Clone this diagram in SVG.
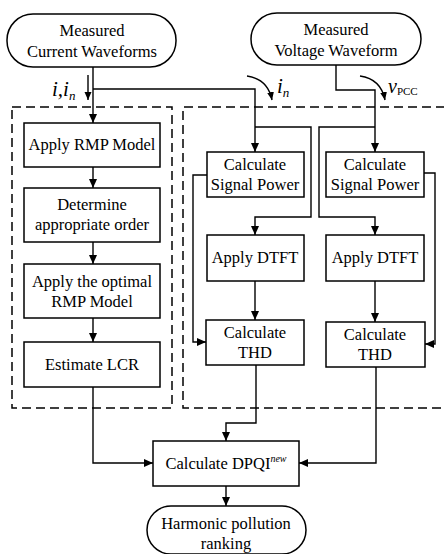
<svg xmlns="http://www.w3.org/2000/svg" width="444" height="554" viewBox="0 0 444 554" font-family="Liberation Serif, serif">
<defs>
<style>
.box{fill:#fff;stroke:#000;stroke-width:1.5}
.dash{fill:none;stroke:#000;stroke-width:1.5;stroke-dasharray:9,5}
.ln{fill:none;stroke:#000;stroke-width:1.4}
text{font-family:'Liberation Serif',serif}
.t{font-size:16.5px;fill:#000;text-anchor:middle}
.lbl{font-style:italic;fill:#000}
</style>
<marker id="ah" markerUnits="userSpaceOnUse" markerWidth="10" markerHeight="10" refX="9" refY="4" orient="auto">
<path d="M0,0 L9,4 L0,8 z" fill="#000"/>
</marker>
<marker id="sa" markerUnits="userSpaceOnUse" markerWidth="10" markerHeight="10" refX="8" refY="3.5" orient="auto">
<path d="M0,0 L8,3.5 L0,7 z" fill="#000"/>
</marker>
</defs>
<rect width="444" height="554" fill="#fff"/>

<g id="groups">
<rect class="dash" x="12" y="107" width="160" height="301"/>
<path class="dash" d="M445,107 H183 V408 H445"/>
</g>

<g id="connectors">
<path class="ln" d="M93,67 V123" marker-end="url(#ah)"/>
<path class="ln" d="M93,89 H255 V152" marker-end="url(#ah)"/>
<path class="ln" d="M255,127 H311 V217 H255 V235" marker-end="url(#ah)"/>
<path class="ln" d="M207,175 H193 V342 H206" marker-end="url(#ah)"/>
<path class="ln" d="M255,281 V320" marker-end="url(#ah)"/>
<path class="ln" d="M336,65 V90 H375 V152" marker-end="url(#ah)"/>
<path class="ln" d="M375,127 H319 V217 H375 V235" marker-end="url(#ah)"/>
<path class="ln" d="M424,173 H435 V344 H425" marker-end="url(#ah)"/>
<path class="ln" d="M375,281 V322" marker-end="url(#ah)"/>
<path class="ln" d="M93,167 V188" marker-end="url(#ah)"/>
<path class="ln" d="M93,242 V264" marker-end="url(#ah)"/>
<path class="ln" d="M93,318 V342" marker-end="url(#ah)"/>
<path class="ln" d="M93,387 V463 H153" marker-end="url(#ah)"/>
<path class="ln" d="M256,365 V423 H226 V441" marker-end="url(#ah)"/>
<path class="ln" d="M376,367 V463 H299" marker-end="url(#ah)"/>
<path class="ln" d="M226,486 V506" marker-end="url(#ah)"/>
<path class="ln" d="M88,75 V100" marker-end="url(#sa)"/>
<path class="ln" d="M247,76 Q268,79 272,100" marker-end="url(#sa)"/>
<path class="ln" d="M360,76 Q381,79 385,100" marker-end="url(#sa)"/>
</g>

<g id="labels">
<text class="lbl" x="52" y="96" font-size="21">i,i<tspan font-size="13" dy="4">n</tspan></text>
<text class="lbl" x="277" y="93" font-size="21">i<tspan font-size="13" dy="4">n</tspan></text>
<text class="lbl" x="388" y="93" font-size="20">v<tspan font-style="normal" font-size="11" dy="2">PCC</tspan></text>
</g>

<g id="n-current">
<rect class="box" x="7" y="14" width="169" height="53" rx="26"/>
<text class="t" x="92" y="36">Measured</text>
<text class="t" x="92" y="57">Current Waveforms</text>
</g>
<g id="n-voltage">
<rect class="box" x="251" y="13" width="170" height="52" rx="26"/>
<text class="t" x="336" y="35">Measured</text>
<text class="t" x="336" y="56">Voltage Waveform</text>
</g>
<g id="n-rmp">
<rect class="box" x="24" y="123" width="136" height="44"/>
<text class="t" x="92" y="150">Apply RMP Model</text>
</g>
<g id="n-order">
<rect class="box" x="24" y="188" width="136" height="54"/>
<text class="t" x="92" y="210">Determine</text>
<text class="t" x="92" y="230">appropriate order</text>
</g>
<g id="n-optimal">
<rect class="box" x="24" y="264" width="136" height="54"/>
<text class="t" x="92" y="287">Apply the optimal</text>
<text class="t" x="92" y="307">RMP Model</text>
</g>
<g id="n-lcr">
<rect class="box" x="24" y="342" width="136" height="45"/>
<text class="t" x="92" y="370">Estimate LCR</text>
</g>
<g id="n-sp1">
<rect class="box" x="207" y="152" width="97" height="45"/>
<text class="t" x="255" y="170">Calculate</text>
<text class="t" x="255" y="190">Signal Power</text>
</g>
<g id="n-sp2">
<rect class="box" x="326" y="152" width="98" height="45"/>
<text class="t" x="375" y="170">Calculate</text>
<text class="t" x="375" y="190">Signal Power</text>
</g>
<g id="n-dtft1">
<rect class="box" x="207" y="235" width="97" height="46"/>
<text class="t" x="255" y="263">Apply DTFT</text>
</g>
<g id="n-dtft2">
<rect class="box" x="326" y="235" width="98" height="46"/>
<text class="t" x="375" y="263">Apply DTFT</text>
</g>
<g id="n-thd1">
<rect class="box" x="206" y="320" width="98" height="45"/>
<text class="t" x="255" y="338">Calculate</text>
<text class="t" x="255" y="358">THD</text>
</g>
<g id="n-thd2">
<rect class="box" x="326" y="322" width="99" height="45"/>
<text class="t" x="375" y="340">Calculate</text>
<text class="t" x="375" y="360">THD</text>
</g>
<g id="n-dpqi">
<rect class="box" x="153" y="441" width="146" height="45"/>
<text class="t" x="226" y="469">Calculate DPQI<tspan font-style="italic" font-size="10" dy="-7">new</tspan></text>
</g>
<g id="n-ranking">
<rect class="box" x="147" y="506" width="159" height="48" rx="24"/>
<text class="t" x="226" y="529">Harmonic pollution</text>
<text class="t" x="226" y="549">ranking</text>
</g>
</svg>
